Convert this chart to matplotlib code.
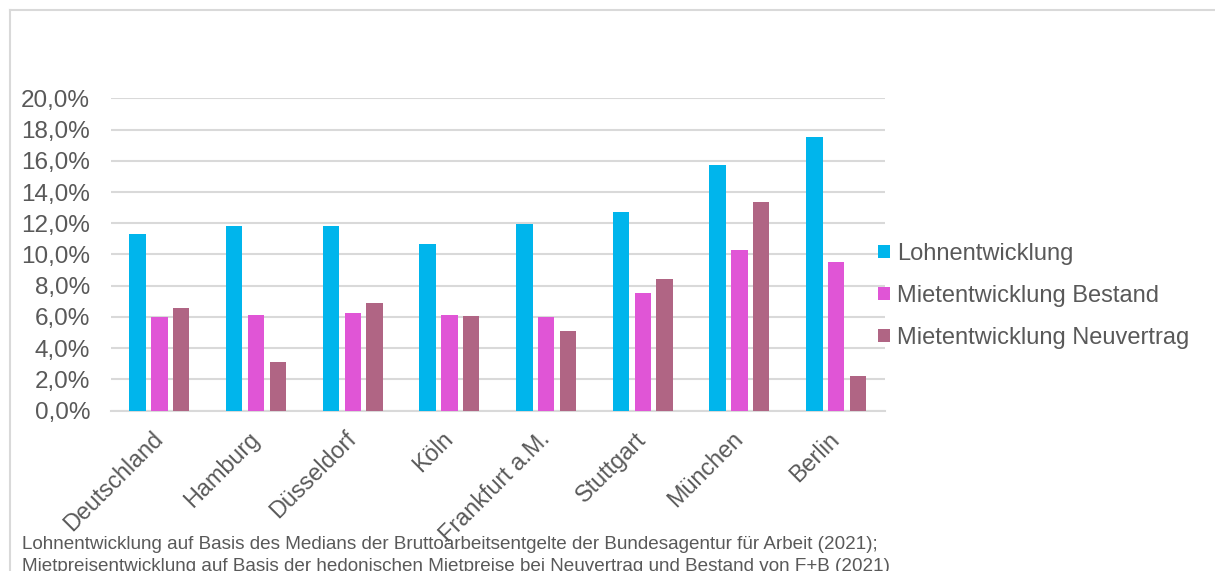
import numpy as np
import matplotlib
matplotlib.use("Agg")
import matplotlib.pyplot as plt
from matplotlib.lines import Line2D

plt.rcParams['font.family'] = ['Liberation Sans', 'DejaVu Sans']

# --- Daten ---
staedte = ['Deutschland', 'Hamburg', 'Düsseldorf', 'Köln', 'Frankfurt a.M.',
           'Stuttgart', 'München', 'Berlin']
lohn = [11.3, 11.85, 11.85, 10.65, 11.95, 12.75, 15.75, 17.5]
miete_bestand = [6.0, 6.15, 6.25, 6.1, 6.0, 7.55, 10.3, 9.5]
miete_neu = [6.55, 3.1, 6.9, 6.05, 5.1, 8.4, 13.35, 2.2]
serien = ['Lohnentwicklung', 'Mietentwicklung Bestand', 'Mietentwicklung Neuvertrag']
farben = ['#00B5EC', '#E055D6', '#B06584']
y_ticks = [0, 2, 4, 6, 8, 10, 12, 14, 16, 18, 20]
fussnote = ("Lohnentwicklung auf Basis des Medians der Bruttoarbeitsentgelte der Bundesagentur für Arbeit (2021);\n"
            "Mietpreisentwicklung auf Basis der hedonischen Mietpreise bei Neuvertrag und Bestand von F+B (2021)")

grau = '#595959'
gitter = '#D9D9D9'

fig = plt.figure(figsize=(12.15, 5.71), dpi=100)
ax = fig.add_axes([111 / 1215, 1 - 410.7 / 571, (884.5 - 111) / 1215, (410.7 - 98.3) / 571])

x = np.arange(len(staedte))
breite = 0.17
abstand = 0.225
for i, (werte, name, farbe) in enumerate(zip([lohn, miete_bestand, miete_neu], serien, farben)):
    ax.bar(x + (i - 1) * abstand, werte, width=breite, color=farbe, label=name, zorder=3)

ax.set_xlim(-0.5, len(staedte) - 0.5)
ax.set_ylim(0, 20)
ax.set_yticks(y_ticks)
ax.set_yticklabels([f"{v:.1f}%".replace('.', ',') for v in y_ticks])
ax.yaxis.grid(True, color=gitter, linewidth=1.5, zorder=0)
for s in ['top', 'right', 'left']:
    ax.spines[s].set_visible(False)
ax.spines['bottom'].set_color(gitter)
ax.spines['bottom'].set_linewidth(1.5)
ax.tick_params(axis='both', length=0, colors=grau)
ax.tick_params(axis='y', pad=15, labelsize=17.5)
ax.set_xticks(x)
ax.set_xticklabels(staedte, rotation=45, ha='right', va='center', rotation_mode='anchor')
ax.tick_params(axis='x', pad=18, labelsize=16.8)

leg = ax.legend(loc='center left', bbox_to_anchor=(878 / 1215, 1 - 296 / 571),
                bbox_transform=fig.transFigure, frameon=False, fontsize=17,
                handlelength=0.5, handleheight=0.5, handletextpad=0.3,
                labelspacing=0.85, borderpad=0, borderaxespad=0)
for t in leg.get_texts():
    t.set_color(grau)

fig.text(22 / 1215, 1 - 536 / 571, fussnote, fontsize=13.6, color=grau,
         va='top', ha='left', linespacing=1.4)

# Rahmen oben und links
fig.add_artist(Line2D([10 / 1215, 1], [1 - 10 / 571] * 2, color=gitter, linewidth=1.5))
fig.add_artist(Line2D([10 / 1215] * 2, [0, 1 - 10 / 571], color=gitter, linewidth=1.5))

fig.savefig('out.png', dpi=100)
